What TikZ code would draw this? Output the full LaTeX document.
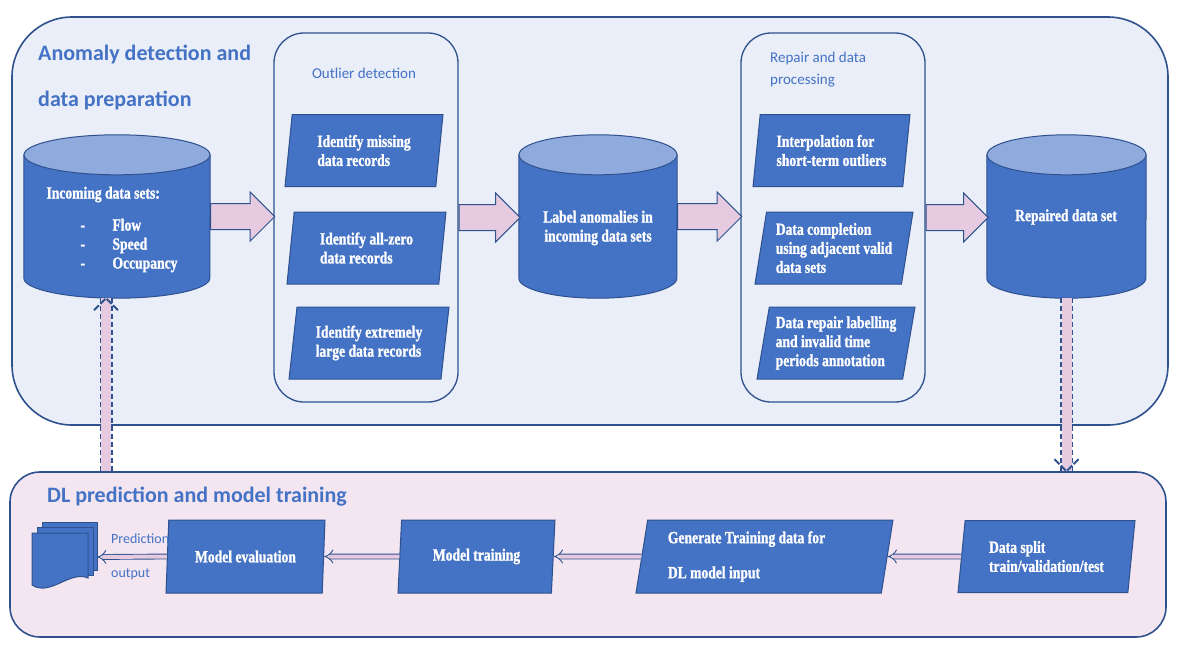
\documentclass[tikz,border=0pt]{standalone}
\usepackage{fontspec}
\setmainfont{Carlito}
\newfontfamily\boxfont[FakeStretch=0.8, BoldFeatures={FakeBold=1.2}]{Liberation Serif}
\usetikzlibrary{calc, arrows.meta, shapes.geometric, shapes.arrows}

\definecolor{edgeblue}{HTML}{2F528F}
\definecolor{nodeblue}{HTML}{4472C4}
\definecolor{topblue}{HTML}{8FAADC}
\definecolor{arrowpink}{HTML}{E6CBE0}
\definecolor{upperfill}{HTML}{E9EEF8}
\definecolor{lowerfill}{HTML}{F4E6F1}
\definecolor{titleblue}{HTML}{4472C4}

\newcommand\boxtext{\boxfont\bfseries\fontsize{17}{19}\selectfont}

\tikzset{
    groupbox/.style={draw=edgeblue, line width=1.6pt, rounded corners=30pt, inner sep=0pt},
    grouptitle/.style={anchor=base west, inner sep=0pt, text=titleblue, font=\bfseries\fontsize{22}{26}\selectfont},
    steptitle/.style={anchor=base west, inner sep=0pt, text=titleblue, font=\fontsize{15}{18}\selectfont},
    storebox/.style={minimum width=186pt, minimum height=163pt, inner sep=0pt},
    storebody/.style={fill=nodeblue, draw=edgeblue, line width=1pt},
    storetop/.style={fill=topblue, draw=edgeblue, line width=1pt},
    storetext/.style={text=white, font=\boxtext, align=left, inner sep=0pt},
    stepio/.style={trapezium, trapezium left angle=77, trapezium right angle=103, trapezium stretches body=true,
        draw=edgeblue, line width=1pt, fill=nodeblue, minimum width=158pt, minimum height=72pt,
        text=white, font=\boxtext, align=left, inner sep=0pt},
    bigarrow/.style={single arrow, anchor=tail, draw=edgeblue, line width=1pt, fill=arrowpink,
        minimum height=63pt, inner xsep=0pt, inner ysep=12.5pt, single arrow head extend=11.5pt},
    flow/.style={draw=edgeblue, line width=0.9pt, double=arrowpink, double distance=4pt, -{Implies}},
    fbband/.style={draw=arrowpink, line width=10pt},
    fbedge/.style={draw=edgeblue, line width=1.5pt, dash pattern=on 5pt off 3pt, double=arrowpink, double distance=10pt},
    fbhead/.style={draw=edgeblue, line width=2pt, dash pattern=on 7pt off 2pt},
    docsheet/.style={draw=edgeblue, line width=1pt, fill=nodeblue}
}

\begin{document}
\begin{tikzpicture}[x=1pt, y=-1pt]
    \useasboundingbox (0,0) rectangle (1179,649);

    % riquadri
    \node[groupbox, fill=upperfill, rounded corners=60pt, minimum width=1156pt, minimum height=408pt] (upper) at (590,221) {};
    \node[groupbox, fill=lowerfill, minimum width=1156pt, minimum height=165pt] (lower) at (588,554.5) {};
    \node[groupbox, fill=upperfill, line width=1.3pt, minimum width=184pt, minimum height=369pt] (outlier) at (366,217.5) {};
    \node[groupbox, fill=upperfill, line width=1.3pt, minimum width=184pt, minimum height=369pt] (repair) at (833,217.5) {};

    % titoli
    \node[grouptitle] (titleA) at (38,60) {Anomaly detection and};
    \node[grouptitle] (titleB) at (38,106) {data preparation};
    \node[grouptitle] (titleC) at (47,502) {DL prediction and model training};
    \node[steptitle, anchor=base] (odtitle) at (364,78) {Outlier detection};
    \node[steptitle] (rptitleA) at (770,62) {Repair and data};
    \node[steptitle] (rptitleB) at (770,84) {processing};

    % serbatoi di dati
    \node[storebox] (incoming) at (117,216.5) {};
    \node[storebox, minimum width=158pt] (labelled) at (598,216.5) {};
    \node[storebox, minimum width=159pt] (repaired) at (1066.5,216.5) {};
    \foreach \c/\r in {incoming/93pt, labelled/79pt, repaired/79.5pt} {
        \draw[storebody] ($(\c.north west)+(0,20)$) -- ($(\c.south west)+(0,-20)$)
            arc[start angle=180, end angle=360, x radius=\r, y radius=20pt]
            -- ($(\c.north east)+(0,20)$) -- cycle;
        \draw[storetop] ($(\c.north)+(0,20)$) ellipse[x radius=\r, y radius=20pt];
    }
    \node[storetext] (incomingtxt) at (112,229.5) {Incoming data sets:\\[13pt]
        \hspace*{34pt}\makebox[32pt][l]{-}Flow\\
        \hspace*{34pt}\makebox[32pt][l]{-}Speed\\
        \hspace*{34pt}\makebox[32pt][l]{-}Occupancy};
    \node[storetext, align=center] (labelledtxt) at (598,228) {Label anomalies in\\incoming data sets};
    \node[storetext] (repairedtxt) at (1066,217) {Repaired data set};

    % outlier detection
    \node[stepio] (missing) at (364,150.5) {Identify missing\\data records};
    \node[stepio, minimum width=159pt] (allzero) at (366.5,248) {Identify all-zero\\data records};
    \node[stepio, minimum width=160pt] (extreme) at (369,343) {Identify extremely\\large data records};

    % repair
    \node[stepio, minimum width=157pt] (interp) at (831.5,150.5) {Interpolation for\\short-term outliers};
    \node[stepio] (complete) at (834,248) {Data completion\\using adjacent valid\\data sets};
    \node[stepio] (annotate) at (836,343) {Data repair labelling\\and invalid time\\periods annotation};

    % frecce grosse
    \node[bigarrow, minimum height=64pt] (arrA) at (incoming.east) {};
    \node[bigarrow, minimum height=61pt] (arrB) at (outlier.east) {};
    \node[bigarrow, minimum height=64pt] (arrC) at (labelled.east) {};
    \node[bigarrow, minimum height=62pt] (arrD) at (repair.east) {};

    % riga inferiore
    \node[stepio, minimum width=177pt] (split) at (1046.5,556.5) {Data split\\train/validation/test};
    \node[stepio, minimum width=257pt, minimum height=73pt] (gendata) at (764.5,556.5) {Generate Training data for\hspace*{36pt}\\[16pt]DL model input};
    \node[stepio, minimum width=157pt, minimum height=73pt] (training) at (476.5,556.5) {Model training};
    \node[stepio, minimum width=159pt, minimum height=73pt] (evaluation) at (245.5,556.5) {Model evaluation};

    % documenti
    \draw[docsheet] (42,522) rectangle (97,570);
    \draw[docsheet] (37,527) rectangle (93,575);
    \draw[docsheet] (32,533) -- (88,533) -- (88,578) .. controls (70,570) and (50,597) .. (32,585) -- cycle;
    \coordinate (docs) at (97,557);

    \draw[flow] (split.west) -- (gendata.east);
    \draw[flow] (gendata.west) -- (training.east);
    \draw[flow] (training.west) -- (evaluation.east);
    \draw[flow] (evaluation.west) -- (docs);

    \node[steptitle, font=\fontsize{14}{17}\selectfont] (predlbl) at (111,543) {Prediction};
    \node[steptitle, font=\fontsize{14}{17}\selectfont] (outlbl) at (111,577) {output};

    % frecce tratteggiate
    \coordinate (fbup) at ($(incoming.south)+(-11,0)$);
    \coordinate (fbstart) at (fbup |- lower.north);
    \draw[fbband] (fbstart) -- (fbup);
    \draw[fbedge] (fbstart) -- (fbup);
    \draw[fbhead] ($(fbup)+(-12,12)$) -- (fbup) -- ($(fbup)+(12,12)$);

    \coordinate (fbdown) at (repaired.south);
    \coordinate (fbend) at (fbdown |- lower.north);
    \draw[fbband] (fbdown) -- (fbend);
    \draw[fbedge] (fbdown) -- (fbend);
    \draw[fbhead] ($(fbend)+(-12,-12)$) -- (fbend) -- ($(fbend)+(12,-12)$);
\end{tikzpicture}
\end{document}
